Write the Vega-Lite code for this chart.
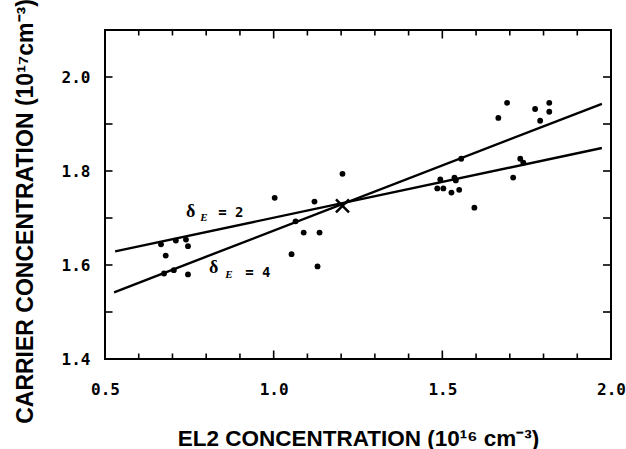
{
  "$schema": "https://vega.github.io/schema/vega-lite/v6.json",
  "width": 506,
  "height": 329,
  "autosize": "none",
  "padding": {"left": 105, "top": 30, "right": 15, "bottom": 90},
  "background": "white",
  "config": {
    "view": {"stroke": "black", "strokeWidth": 2},
    "axis": {"grid": false, "domain": false, "ticks": false, "labelColor": "black", "titleColor": "black"}
  },
  "datasets": {
    "pts": [
      {"x": 0.666, "y": 1.644}, {"x": 0.680, "y": 1.620}, {"x": 0.710, "y": 1.652}, {"x": 0.740, "y": 1.654},
      {"x": 0.746, "y": 1.640}, {"x": 0.675, "y": 1.582}, {"x": 0.704, "y": 1.589}, {"x": 0.746, "y": 1.580},
      {"x": 1.003, "y": 1.743}, {"x": 1.121, "y": 1.735}, {"x": 1.065, "y": 1.693}, {"x": 1.089, "y": 1.669},
      {"x": 1.136, "y": 1.669}, {"x": 1.053, "y": 1.623}, {"x": 1.130, "y": 1.597}, {"x": 1.204, "y": 1.794},
      {"x": 1.494, "y": 1.782}, {"x": 1.536, "y": 1.786}, {"x": 1.540, "y": 1.780}, {"x": 1.485, "y": 1.763},
      {"x": 1.503, "y": 1.763}, {"x": 1.527, "y": 1.754}, {"x": 1.550, "y": 1.760}, {"x": 1.556, "y": 1.826},
      {"x": 1.595, "y": 1.722}, {"x": 1.666, "y": 1.913}, {"x": 1.692, "y": 1.945}, {"x": 1.775, "y": 1.932},
      {"x": 1.817, "y": 1.945}, {"x": 1.817, "y": 1.926}, {"x": 1.790, "y": 1.907}, {"x": 1.731, "y": 1.826},
      {"x": 1.740, "y": 1.818}, {"x": 1.710, "y": 1.786}
    ],
    "lines": [
      {"line": "d2", "x": 0.530, "y": 1.629}, {"line": "d2", "x": 1.973, "y": 1.849},
      {"line": "d4", "x": 0.527, "y": 1.542}, {"line": "d4", "x": 1.973, "y": 1.943}
    ],
    "cross": [{"x": 1.204, "y": 1.726}],
    "delta": [{"x": 0.754, "y": 1.712}, {"x": 0.822, "y": 1.593}],
    "sub": [{"x": 0.793, "y": 1.699}, {"x": 0.867, "y": 1.578}],
    "eq": [{"x": 0.873, "y": 1.710, "t": "= 2"}, {"x": 0.953, "y": 1.584, "t": "= 4"}],
    "xt": [
      {"v": 0.5, "k": "major"}, {"v": 0.6, "k": "minor"}, {"v": 0.7, "k": "minor"}, {"v": 0.8, "k": "minor"},
      {"v": 0.9, "k": "minor"}, {"v": 1.0, "k": "major"}, {"v": 1.1, "k": "minor"}, {"v": 1.2, "k": "minor"},
      {"v": 1.3, "k": "minor"}, {"v": 1.4, "k": "minor"}, {"v": 1.5, "k": "major"}, {"v": 1.6, "k": "minor"},
      {"v": 1.7, "k": "minor"}, {"v": 1.8, "k": "minor"}, {"v": 1.9, "k": "minor"}, {"v": 2.0, "k": "major"}
    ],
    "yt": [{"w": 1.5}, {"w": 1.6}, {"w": 1.7}, {"w": 1.8}, {"w": 1.9}, {"w": 2.0}]
  },
  "layer": [
    {
      "data": {"name": "pts"},
      "mark": {"type": "point", "filled": true, "color": "black", "size": 34, "opacity": 1},
      "encoding": {
        "x": {"field": "x", "type": "quantitative", "scale": {"domain": [0.5, 2.0], "nice": false, "zero": false},
          "axis": {"orient": "bottom", "values": [0.5, 1.0, 1.5, 2.0], "format": ".1f",
            "labelPadding": 22, "labelFont": "DejaVu Sans Mono", "labelFontWeight": "bold", "labelFontSize": 16,
            "labelFlush": false, "labelOverlap": false,
            "title": "EL2 CONCENTRATION (10¹⁶ cm⁻³)", "titleFont": "Liberation Sans", "titleFontWeight": "bold", "titleFontSize": 22.5,
            "titleY": 68, "titleBaseline": "top"}},
        "y": {"field": "y", "type": "quantitative", "scale": {"domain": [1.4, 2.1], "nice": false, "zero": false},
          "axis": {"orient": "left", "values": [1.4, 1.6, 1.8, 2.0], "format": ".1f",
            "labelPadding": 15, "labelFont": "DejaVu Sans Mono", "labelFontWeight": "bold", "labelFontSize": 16,
            "labelFlush": false, "labelOverlap": false,
            "title": "CARRIER CONCENTRATION (10¹⁷cm⁻³)", "titleFont": "Liberation Sans", "titleFontWeight": "bold", "titleFontSize": 23,
            "titleX": -73, "titleY": 181, "titleBaseline": "alphabetic", "titleAlign": "center", "titleAngle": -90}}
      }
    },
    {
      "data": {"name": "lines"},
      "mark": {"type": "line", "color": "black", "strokeWidth": 2.4},
      "encoding": {
        "x": {"field": "x", "type": "quantitative", "axis": null},
        "y": {"field": "y", "type": "quantitative", "axis": null},
        "detail": {"field": "line"}
      }
    },
    {
      "data": {"name": "cross"},
      "mark": {"type": "point", "shape": "M-1,-1L1,1M-1,1L1,-1", "filled": false, "color": "black", "strokeWidth": 2.5, "size": 170, "opacity": 1},
      "encoding": {
        "x": {"field": "x", "type": "quantitative", "axis": null},
        "y": {"field": "y", "type": "quantitative", "axis": null}
      }
    },
    {
      "data": {"name": "xt"},
      "mark": {"type": "tick", "orient": "vertical", "color": "black", "thickness": 1.6, "clip": true, "opacity": 1},
      "encoding": {
        "x": {"field": "v", "type": "quantitative", "axis": null},
        "y": {"datum": 1.4, "type": "quantitative", "axis": null},
        "size": {"field": "k", "type": "nominal", "scale": {"domain": ["major", "minor"], "range": [17, 11]}, "legend": null}
      }
    },
    {
      "data": {"name": "xt"},
      "mark": {"type": "tick", "orient": "vertical", "color": "black", "thickness": 1.6, "clip": true, "opacity": 1},
      "encoding": {
        "x": {"field": "v", "type": "quantitative", "axis": null},
        "y": {"datum": 2.1, "type": "quantitative", "axis": null},
        "size": {"field": "k", "type": "nominal", "scale": {"domain": ["major", "minor"], "range": [17, 11]}, "legend": null}
      }
    },
    {
      "data": {"name": "yt"},
      "mark": {"type": "tick", "orient": "horizontal", "color": "black", "thickness": 1.6, "clip": true, "size": 15, "opacity": 1},
      "encoding": {
        "y": {"field": "w", "type": "quantitative", "axis": null},
        "x": {"datum": 0.5, "type": "quantitative", "axis": null}
      }
    },
    {
      "data": {"name": "yt"},
      "mark": {"type": "tick", "orient": "horizontal", "color": "black", "thickness": 1.6, "clip": true, "size": 16, "opacity": 1},
      "encoding": {
        "y": {"field": "w", "type": "quantitative", "axis": null},
        "x": {"datum": 2.0, "type": "quantitative", "axis": null}
      }
    },
    {
      "data": {"name": "delta"},
      "mark": {"type": "text", "text": "δ", "font": "Liberation Serif", "fontSize": 18, "fontWeight": "bold", "color": "black"},
      "encoding": {
        "x": {"field": "x", "type": "quantitative", "axis": null},
        "y": {"field": "y", "type": "quantitative", "axis": null}
      }
    },
    {
      "data": {"name": "sub"},
      "mark": {"type": "text", "text": "E", "font": "Liberation Serif", "fontSize": 11, "fontWeight": "bold", "fontStyle": "italic", "color": "black"},
      "encoding": {
        "x": {"field": "x", "type": "quantitative", "axis": null},
        "y": {"field": "y", "type": "quantitative", "axis": null}
      }
    },
    {
      "data": {"name": "eq"},
      "mark": {"type": "text", "font": "DejaVu Sans Mono", "fontSize": 14, "fontWeight": "bold", "color": "black"},
      "encoding": {
        "x": {"field": "x", "type": "quantitative", "axis": null},
        "y": {"field": "y", "type": "quantitative", "axis": null},
        "text": {"field": "t"}
      }
    }
  ],
  "resolve": {"axis": {"x": "independent", "y": "independent"}}
}
